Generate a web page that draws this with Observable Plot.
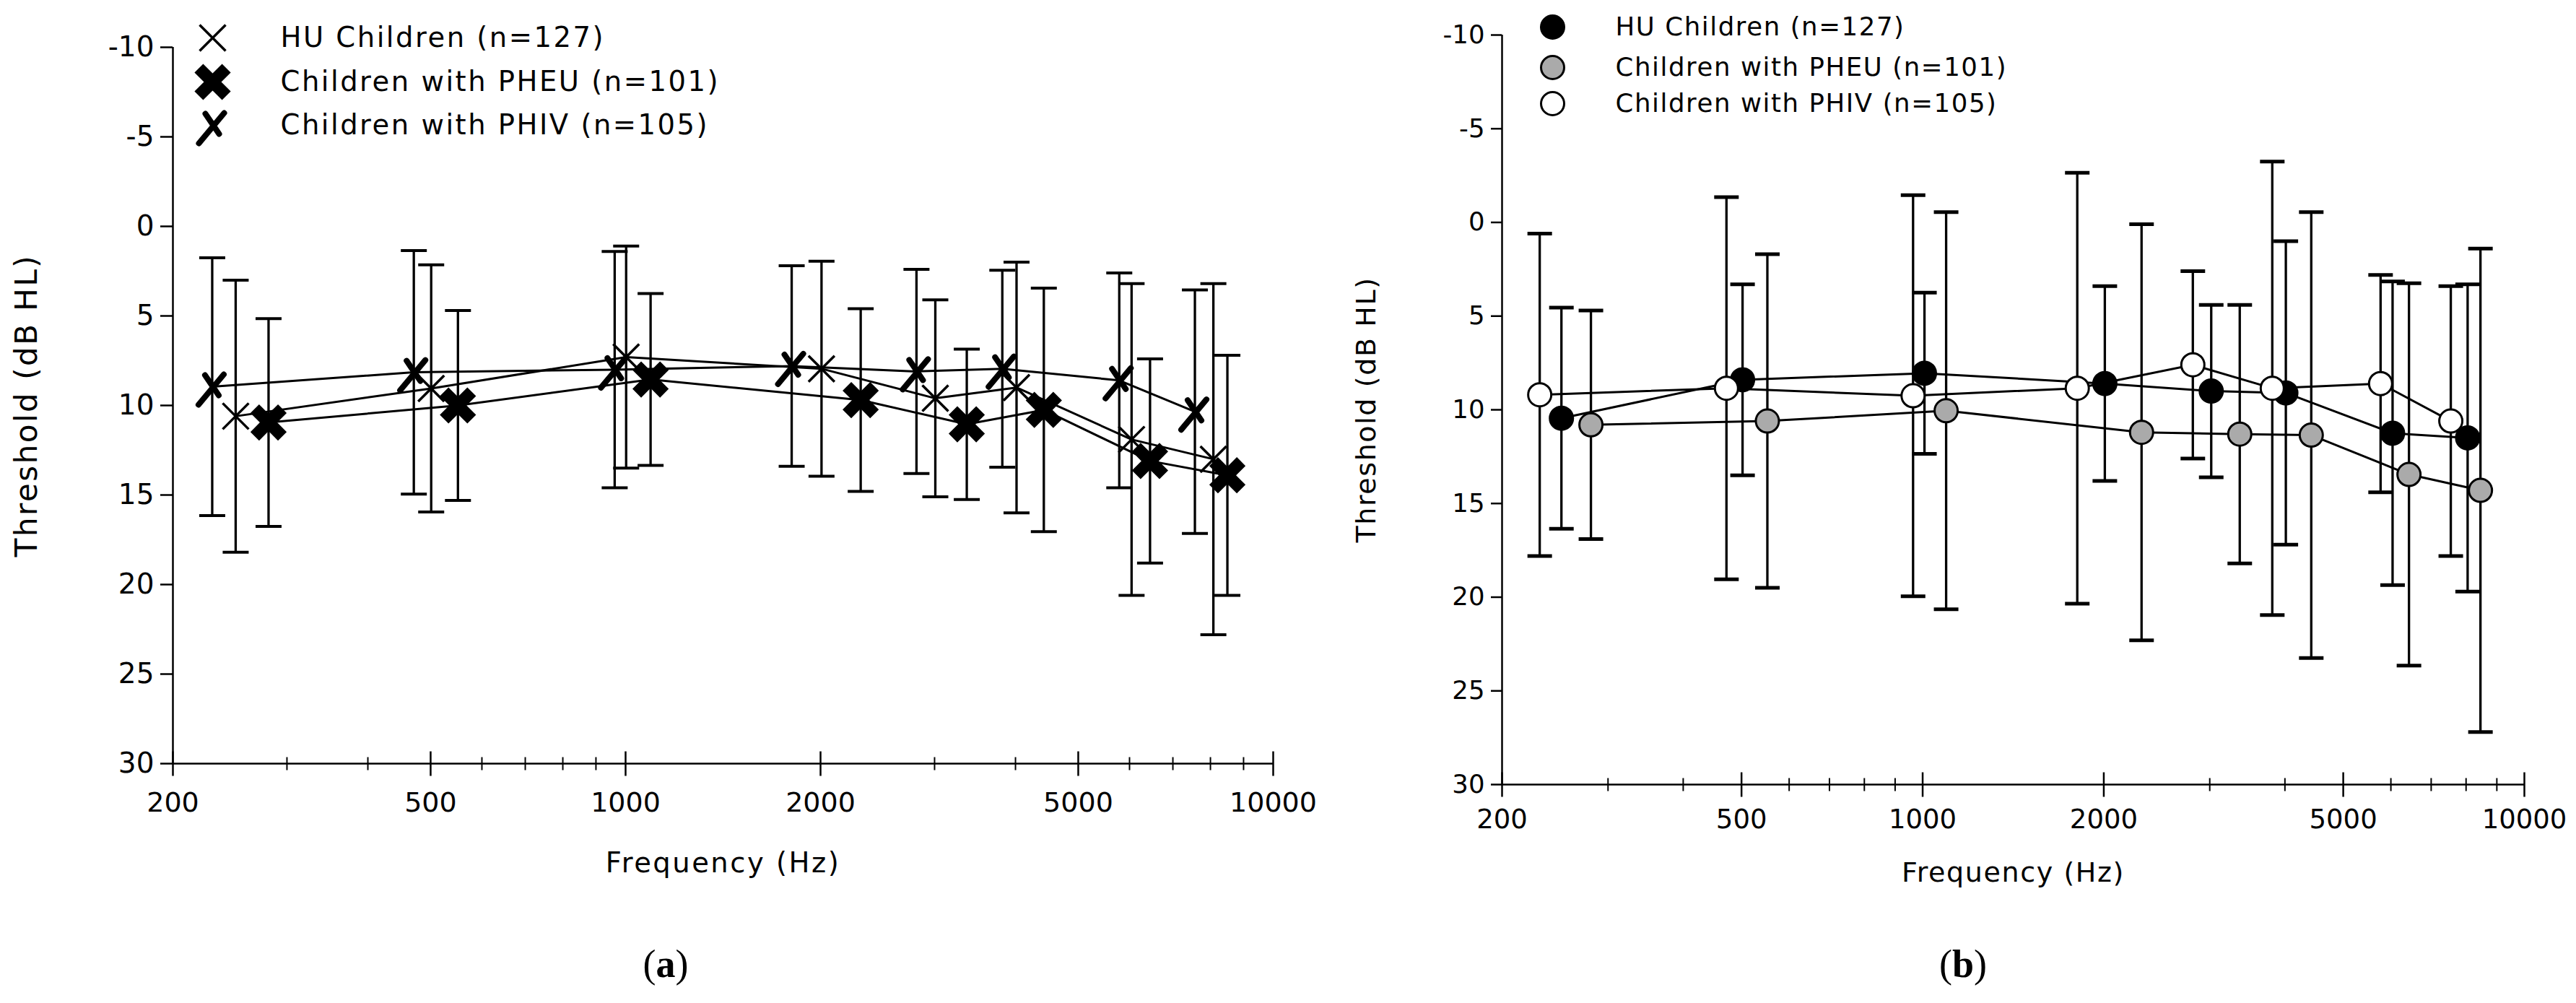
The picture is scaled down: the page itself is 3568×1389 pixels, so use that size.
<!DOCTYPE html>
<html><head><meta charset="utf-8">
<script src="https://cdn.jsdelivr.net/npm/d3@7"></script>
<script src="https://cdn.jsdelivr.net/npm/@observablehq/plot@0.6"></script>
<style>
html,body{margin:0;padding:0;background:#fff;}
#wrap{position:relative;width:3568px;height:1389px;overflow:hidden;background:#fff;}
.fig{position:absolute;top:0;}
.fig svg{max-width:none;overflow:visible;background:transparent;}
#figA g[aria-label="text"] text{letter-spacing:2.5px;}
#figB g[aria-label="text"] text{letter-spacing:1.6px;}
.cap{position:absolute;font-family:"Liberation Serif","DejaVu Serif",serif;font-size:54px;transform:translate(-50%,-50%);line-height:1;color:#000;}
</style></head><body><div id="wrap"><div id="figA" class="fig" style="left:0"></div><div id="figB" class="fig" style="left:1784px"></div>
<div class="cap" style="left:922px;top:1335px">(<b>a</b>)</div>
<div class="cap" style="left:2719px;top:1335px">(<b>b</b>)</div></div>
<script>
// ---- shared axis values ----
const freqLabels = [200, 500, 1000, 2000, 5000, 10000];
const minorTicks = [300, 400, 600, 700, 800, 900, 3000, 4000, 6000, 7000, 8000, 9000];
const yTicks = [-10, -5, 0, 5, 10, 15, 20, 25, 30];
const seriesNames = ["HU Children (n=127)", "Children with PHEU (n=101)", "Children with PHIV (n=105)"];
const xTitle = "Frequency (Hz)";
const yTitle = "Threshold (dB HL)";

// ---- panel (a): plotted frequency, mean threshold, SD ----
const aX_HU   = [250, 501, 1002, 2007, 3008, 4015, 6044, 8084];
const aM_HU   = [10.6, 9.05, 7.3, 7.95, 9.6, 9.0, 11.9, 13.0];
const aSD_HU  = [7.6, 6.9, 6.2, 6.0, 5.5, 7.0, 8.7, 9.8];
const aX_PHEU = [281, 551, 1093, 2307, 3364, 4424, 6454, 8497];
const aM_PHEU = [10.95, 10.0, 8.55, 9.7, 11.05, 10.25, 13.1, 13.9];
const aSD_PHEU= [5.8, 5.3, 4.8, 5.1, 4.2, 6.8, 5.7, 6.7];
const aX_PHIV = [230, 471, 962, 1805, 2813, 3817, 5785, 7570];
const aM_PHIV = [8.95, 8.15, 8.0, 7.8, 8.1, 7.95, 8.6, 10.35];
const aSD_PHIV= [7.2, 6.8, 6.6, 5.6, 5.7, 5.5, 6.0, 6.8];

// ---- panel (b) ----
const bX_HU   = [251, 502, 1007, 2008, 3017, 4014, 6039, 8048];
const bM_HU   = [10.45, 8.4, 8.05, 8.6, 9.0, 9.1, 11.25, 11.5];
const bSD_HU  = [5.9, 5.1, 4.3, 5.2, 4.6, 8.1, 8.1, 8.2];
const bX_PHEU = [281, 552, 1094, 2311, 3365, 4424, 6430, 8453];
const bM_PHEU = [10.8, 10.6, 10.05, 11.2, 11.3, 11.35, 13.45, 14.3];
const bSD_PHEU= [6.1, 8.9, 10.6, 11.1, 6.9, 11.9, 10.2, 12.9];
const bX_PHIV = [231, 472, 964, 1807, 2812, 3811, 5768, 7546];
const bM_PHIV = [9.2, 8.85, 9.25, 8.85, 7.6, 8.85, 8.6, 10.6];
const bSD_PHIV= [8.6, 10.2, 10.7, 11.5, 5.0, 12.1, 5.8, 7.2];

const rows = (xs, ms, sds) => xs.map((x, i) => ({x, m: ms[i], sd: sds[i]}));

// ---- custom symbols ----
const xThin = {draw(c){const s=18;c.moveTo(-s,-s);c.lineTo(s,s);c.moveTo(-s,s);c.lineTo(s,-s);}};
const xBold = {draw(c){const L=27,w=8.5,k=Math.SQRT1_2;
  const pts=[[w,-L],[w,-w],[L,-w],[L,w],[w,w],[w,L],[-w,L],[-w,w],[-L,w],[-L,-w],[-w,-w],[-w,-L]].map(([x,y])=>[(x-y)*k,(x+y)*k]);
  c.moveTo(pts[0][0],pts[0][1]); for(const p of pts.slice(1)) c.lineTo(p[0],p[1]); c.closePath();}};
const xSlant = {draw(c){c.moveTo(-19,25);c.lineTo(16,-17);c.moveTo(-10,-16);c.lineTo(9,12);}};
const hcap = h => ({draw(c){c.moveTo(-h,0);c.lineTo(h,0);}});
const vtick = h => ({draw(c){c.moveTo(0,-h);c.lineTo(0,h);}});

function panel(cfg) {
  const marks = [];
  // axis lines
  marks.push(Plot.ruleX([200], {stroke: "black", strokeWidth: 2.5}));
  marks.push(Plot.ruleY([30], {stroke: "black", strokeWidth: 2.5}));
  // x ticks crossing the axis
  marks.push(Plot.dot(freqLabels, {x: d => d, frameAnchor: "bottom", symbol: vtick(17), stroke: "black", strokeWidth: 2.5, fill: "none"}));
  marks.push(Plot.dot(minorTicks, {x: d => d, frameAnchor: "bottom", symbol: vtick(9), stroke: "black", strokeWidth: 2, fill: "none"}));
  marks.push(Plot.axisX({ticks: freqLabels, tickSize: 0, tickPadding: cfg.xPad, tickFormat: d => String(d), fontSize: cfg.xFont, label: null}));
  marks.push(Plot.axisY({anchor: "left", ticks: yTicks, tickSize: cfg.yTick, tickPadding: 9, tickFormat: d => String(d), fontSize: cfg.yFont, strokeWidth: 2.5, label: null}));
  // titles
  marks.push(Plot.text([xTitle], {frameAnchor: "bottom", dy: cfg.xTitleDy, lineAnchor: "middle", textAnchor: "middle", fontSize: cfg.titleFont, text: d => d}));
  marks.push(Plot.text([yTitle], {frameAnchor: "left", dx: cfg.yTitleDx, rotate: -90, lineAnchor: "middle", textAnchor: "middle", fontSize: cfg.yTitleFont, text: d => d}));
  // series lines
  cfg.series.forEach(s => marks.push(Plot.line(s.data, {x: "x", y: "m", stroke: "black", strokeWidth: 3})));
  // error bars
  cfg.series.forEach(s => {
    marks.push(Plot.ruleX(s.data, {x: "x", y1: d => d.m - d.sd, y2: d => d.m + d.sd, stroke: "black", strokeWidth: 3.3}));
    marks.push(Plot.dot(s.data, {x: "x", y: d => d.m - d.sd, symbol: hcap(cfg.capHalf), stroke: "black", strokeWidth: cfg.capW, fill: "none"}));
    marks.push(Plot.dot(s.data, {x: "x", y: d => d.m + d.sd, symbol: hcap(cfg.capHalf), stroke: "black", strokeWidth: cfg.capW, fill: "none"}));
  });
  // markers
  cfg.series.forEach(s => marks.push(Plot.dot(s.data, {x: "x", y: "m", ...s.style})));
  // legend
  cfg.series.forEach((s, i) => {
    marks.push(Plot.dot([s.name], {frameAnchor: "top-left", dx: cfg.legMarkDx, dy: cfg.legRows[i], ...s.style}));
    marks.push(Plot.text([s.name], {frameAnchor: "top-left", dx: cfg.legTextDx, dy: cfg.legRows[i], textAnchor: "start", lineAnchor: "middle", fontSize: cfg.legFont, text: d => d}));
  });
  return Plot.plot({
    width: cfg.width, height: cfg.height,
    marginLeft: cfg.ml, marginRight: cfg.mr, marginTop: cfg.mt, marginBottom: cfg.mb,
    style: {fontFamily: "DejaVu Sans", color: "black", background: "transparent"},
    x: {type: "log", domain: [200, 10000]},
    y: {domain: [-10, 30], reverse: true},
    marks
  });
}

const styleA = [
  {symbol: xThin, stroke: "black", strokeWidth: 3.5, fill: "none"},
  {symbol: xBold, fill: "black", stroke: "none"},
  {symbol: xSlant, stroke: "black", strokeWidth: 8, fill: "none", strokeLinecap: "round"}
];
const styleB = [
  {symbol: "circle", r: 16, fill: "black", stroke: "black", strokeWidth: 3},
  {symbol: "circle", r: 16, fill: "#aaaaaa", stroke: "black", strokeWidth: 3},
  {symbol: "circle", r: 16, fill: "white", stroke: "black", strokeWidth: 3}
];

const figA = panel({
  width: 1840, height: 1260, ml: 239, mr: 1840 - 1763, mt: 65, mb: 1260 - 1057,
  xPad: 40, xFont: 38, yFont: 39, yTick: 17, titleFont: 38.5, yTitleFont: 42,
  xTitleDy: 138, yTitleDx: -202, capHalf: 18, capW: 4,
  legMarkDx: 55, legTextDx: 149, legRows: [52 - 65, 113 - 65, 173 - 65], legFont: 38.5,
  series: [
    {name: seriesNames[0], data: rows(aX_HU, aM_HU, aSD_HU), style: styleA[0]},
    {name: seriesNames[1], data: rows(aX_PHEU, aM_PHEU, aSD_PHEU), style: styleA[1]},
    {name: seriesNames[2], data: rows(aX_PHIV, aM_PHIV, aSD_PHIV), style: styleA[2]}
  ]
});
const figB = panel({
  width: 1784, height: 1260, ml: 296, mr: 1784 - 1416 - 296, mt: 48, mb: 1260 - 1086,
  xPad: 34, xFont: 37, yFont: 35.5, yTick: 15, titleFont: 38, yTitleFont: 38,
  xTitleDy: 122, yTitleDx: -188, capHalf: 17, capW: 5,
  legMarkDx: 70, legTextDx: 157, legRows: [37 - 48, 93 - 48, 143 - 48], legFont: 35.5,
  series: [
    {name: seriesNames[0], data: rows(bX_HU, bM_HU, bSD_HU), style: styleB[0]},
    {name: seriesNames[1], data: rows(bX_PHEU, bM_PHEU, bSD_PHEU), style: styleB[1]},
    {name: seriesNames[2], data: rows(bX_PHIV, bM_PHIV, bSD_PHIV), style: styleB[2]}
  ]
});
document.getElementById("figA").appendChild(figA);
document.getElementById("figB").appendChild(figB);
</script></body></html>
